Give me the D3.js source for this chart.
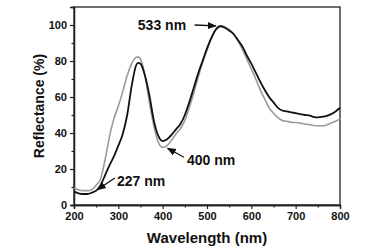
<!DOCTYPE html>
<html>
<head>
<meta charset="utf-8">
<script src="https://cdn.jsdelivr.net/npm/d3@7"></script>
<style>
  body { margin: 0; background: #fff; }
  svg text { font-family: Arial, "Liberation Sans", sans-serif; font-weight: bold; fill: #111; }
</style>
</head>
<body>
<svg id="chart" width="371" height="249"></svg>
<script>
// wavelengths (nm)
const wavelengths = [200,210,220,230,240,250,260,270,280,290,300,310,320,330,340,345,350,360,370,380,390,400,410,420,430,440,450,460,470,480,490,500,510,520,530,540,550,560,570,580,590,600,610,620,630,640,650,660,670,680,690,700,710,720,730,740,750,760,770,780,790,800];

// black curve reflectance (%)
const blackSeries = [7.4,6.5,6.1,6.1,6.8,8,11,16.5,22,27,33,39.5,50,66,77.5,79,78.5,72,61,47,38.5,35.5,36.5,39,42,45,50,57,65,73,80,87,93,97.5,99.3,98.5,97,95,91.5,88,83,78.5,73.5,68.5,64,60,57,54,52.5,52,51.5,51,50.5,50,49.8,49,48.7,49,49.5,50.5,52,54];

// gray curve reflectance (%)
const graySeries = [9.5,8.5,8,8,8.5,11,14.5,25,38,48,55,63,72,78.5,82,82.3,81,72,57,44,35,32,33,36,39.5,42.5,47,54,62,71,79,86,92.5,97.5,99.5,99,97.5,95,91,86.5,81,75.5,70,64,59,54,51,48.5,47,46.5,46,45.8,45.5,45,44.7,44.2,44,44,44.5,45.5,46.5,48];

const xTicks = [200,300,400,500,600,700,800];
const yTicks = [0,20,40,60,80,100];

// annotations: label, text position and arrow from/to (in data units)
const notes = [
  { label: '533 nm', tx: 344, ty: 97, from: [472, 100], to: [520, 99.5] },
  { label: '400 nm', tx: 455, ty: 22, from: [448, 26.5], to: [411, 31.5] },
  { label: '227 nm', tx: 297, ty: 10.5, from: [292, 15], to: [253, 8.5] }
];

const svg = d3.select('#chart');
const margin = { left: 74, top: 7, right: 31, bottom: 44 };
const width = +svg.attr('width');
const height = +svg.attr('height');

const x = d3.scaleLinear().domain([200, 800]).range([margin.left, width - margin.right]);
const y = d3.scaleLinear().domain([0, 110]).range([height - margin.bottom, margin.top]);

// arrow head
svg.append('defs').append('marker')
  .attr('id', 'arrow')
  .attr('viewBox', '0 0 10 10')
  .attr('refX', 9).attr('refY', 5)
  .attr('markerWidth', 7).attr('markerHeight', 7)
  .attr('orient', 'auto')
  .append('path').attr('d', 'M0,1 L10,5 L0,9 Z').attr('fill', '#111');

// Plot frame
svg.append('rect')
  .attr('x', x(200)).attr('y', y(110))
  .attr('width', x(800) - x(200)).attr('height', y(0) - y(110))
  .attr('fill', 'none').attr('stroke', '#222').attr('stroke-width', 1.3);

// Axes with minor ticks
const xMinor = d3.range(250, 800, 100);
const yMinor = d3.range(10, 110, 20);

svg.append('g').attr('transform', `translate(0,${y(0)})`)
  .call(d3.axisBottom(x).tickValues(xTicks).tickSize(4).tickPadding(3));
svg.append('g').attr('transform', `translate(0,${y(0)})`)
  .call(d3.axisBottom(x).tickValues(xMinor).tickSize(2.5).tickFormat(''));

svg.append('g').attr('transform', `translate(${x(200)},0)`)
  .call(d3.axisLeft(y).tickValues(yTicks).tickSize(4).tickPadding(3));
svg.append('g').attr('transform', `translate(${x(200)},0)`)
  .call(d3.axisLeft(y).tickValues(yMinor).tickSize(2.5).tickFormat(''));

svg.selectAll('.domain').attr('stroke', '#222').attr('stroke-width', 1.3);
svg.selectAll('.tick line').attr('stroke', '#222').attr('stroke-width', 1.2);
svg.selectAll('.tick text').style('font-size', '11px').style('font-weight', 'bold').attr('fill', '#111');

// Axis titles
svg.append('text')
  .attr('x', (x(200) + x(800)) / 2).attr('y', 243)
  .attr('text-anchor', 'middle').style('font-size', '15px')
  .text('Wavelength (nm)');

svg.append('text')
  .attr('transform', `translate(44,${(y(0) + y(110)) / 2}) rotate(-90)`)
  .attr('text-anchor', 'middle').style('font-size', '14px')
  .text('Reflectance (%)');

// Curves
const line = d3.line()
  .x((d, i) => x(wavelengths[i]))
  .y(d => y(d))
  .curve(d3.curveMonotoneX);

svg.append('path').datum(graySeries)
  .attr('d', line).attr('fill', 'none')
  .attr('stroke', '#9a9a9a').attr('stroke-width', 1.6);

svg.append('path').datum(blackSeries)
  .attr('d', line).attr('fill', 'none')
  .attr('stroke', '#111').attr('stroke-width', 1.8);

// Annotations
notes.forEach(n => {
  svg.append('text')
    .attr('x', x(n.tx)).attr('y', y(n.ty))
    .style('font-size', '14px')
    .text(n.label);
  svg.append('line')
    .attr('x1', x(n.from[0])).attr('y1', y(n.from[1]))
    .attr('x2', x(n.to[0])).attr('y2', y(n.to[1]))
    .attr('stroke', '#111').attr('stroke-width', 1.3)
    .attr('marker-end', 'url(#arrow)');
});
</script>
</body>
</html>
